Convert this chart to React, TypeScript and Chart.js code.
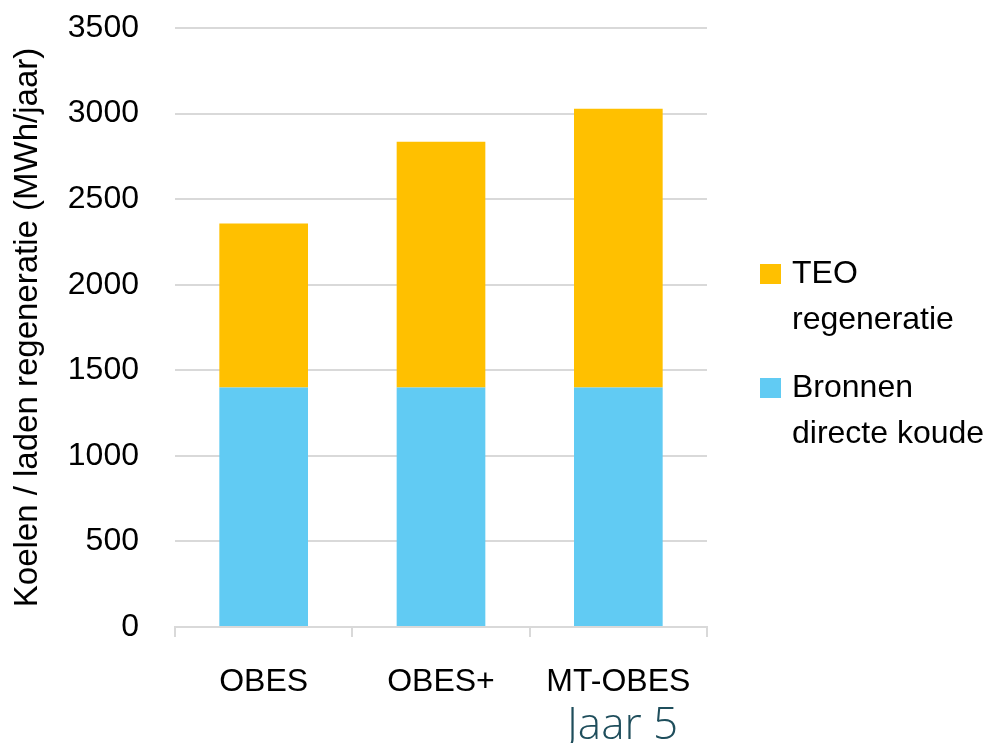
import React, { useEffect, useRef } from "react";
import { Chart, registerables } from "chart.js";

Chart.register(...registerables);

const categories = ["OBES", "OBES+", "MT-OBES"];
const bronnenValues = [1400, 1400, 1400];
const teoValues = [957, 1436, 1628];
const seriesNames = [["Bronnen", "directe koude"], ["TEO", "regeneratie"]];
const seriesColors = ["#61CBF3", "#FFC000"];
const yTicks = [0, 500, 1000, 1500, 2000, 2500, 3000, 3500];
const yTitle = "Koelen / laden regeneratie (MWh/jaar)";
const footnote = "Jaar 5";

const sideLegend = {
  id: "sideLegend",
  afterDraw(chart: any) {
    const ctx = chart.ctx;
    ctx.save();
    const ds = chart.data.datasets;
    const order = [1, 0];
    const baselines = [283, 397];
    order.forEach((di, k) => {
      const d = ds[di];
      const b = baselines[k];
      ctx.fillStyle = d.backgroundColor;
      ctx.fillRect(760, b - 19, 21, 20);
      ctx.fillStyle = "#000";
      ctx.font = '32px "Liberation Sans Narrow", "Liberation Sans", Arial, sans-serif';
      ctx.textAlign = "left";
      ctx.textBaseline = "alphabetic";
      const lines = d.legendLines as string[];
      lines.forEach((ln, i) => ctx.fillText(ln, 792, b + i * 46));
    });
    ctx.font = '300 44px "Open Sans", sans-serif';
    ctx.fillStyle = "#1F4E5C";
    ctx.textAlign = "left";
    ctx.fillText(footnote, 567, 739);
    ctx.restore();
  },
};

export default function App() {
  const ref = useRef<HTMLCanvasElement>(null);
  useEffect(() => {
    document.body.style.margin = "0";
    const chart = new Chart(ref.current!, {
      type: "bar",
      data: {
        labels: categories,
        datasets: [
          {
            label: seriesNames[0].join(" "),
            legendLines: seriesNames[0],
            data: bronnenValues,
            backgroundColor: seriesColors[0],
            barPercentage: 0.5,
            categoryPercentage: 1,
          } as any,
          {
            label: seriesNames[1].join(" "),
            legendLines: seriesNames[1],
            data: teoValues,
            backgroundColor: seriesColors[1],
            barPercentage: 0.5,
            categoryPercentage: 1,
          } as any,
        ],
      },
      options: {
        animation: false,
        responsive: false,
        maintainAspectRatio: false,
        layout: { padding: { top: 28, right: 288, left: 0, bottom: 0 } },
        plugins: { legend: { display: false }, tooltip: { enabled: false } },
        scales: {
          x: {
            stacked: true,
            grid: {
              offset: true,
              drawOnChartArea: false,
              drawTicks: true,
              tickLength: 10,
              color: "#D9D9D9",
              lineWidth: 2,
            },
            border: { display: true, color: "#D9D9D9", width: 2 },
            ticks: {
              color: "#000",
              padding: 26,
              font: { family: '"Liberation Sans Narrow", "Liberation Sans", Arial, sans-serif', size: 32 },
            },
            afterFit(scale: any) {
              scale.height = 116;
            },
          },
          y: {
            stacked: true,
            min: 0,
            max: 3500,
            afterBuildTicks(scale: any) {
              scale.ticks = yTicks.map((v) => ({ value: v }));
            },
            grid: { color: "#D9D9D9", lineWidth: 2, drawTicks: false },
            border: { display: false },
            ticks: {
              color: "#000",
              padding: 36,
              callback: (v: any) => String(v),
              font: { family: '"Liberation Sans", Arial, sans-serif', size: 32 },
            },
            title: {
              display: true,
              text: yTitle,
              color: "#000",
              padding: { top: 8, bottom: 0 },
              font: { family: '"Liberation Sans", Arial, sans-serif', size: 33 },
            },
            afterFit(scale: any) {
              scale.width = 175;
              scale.paddingTop = 0;
              scale.paddingBottom = 0;
            },
          },
        },
      },
      plugins: [sideLegend],
    });
    return () => chart.destroy();
  }, []);
  return (
    <div style={{ width: 995, height: 743, position: "relative" }}>
      <canvas ref={ref} width={995} height={743} style={{ display: "block" }} />
    </div>
  );
}
